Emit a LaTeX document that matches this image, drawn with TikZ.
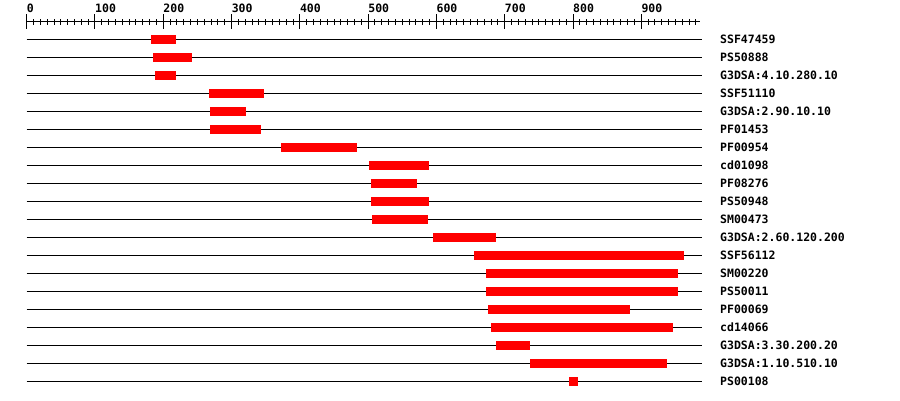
\documentclass[tikz,border=0pt]{standalone}
\usepackage{fontspec}
\setmonofont{DejaVu Sans Mono}
\definecolor{barred}{RGB}{255,0,0}
\begin{document}
\begin{tikzpicture}[x=1pt,y=-1pt,
  axisline/.style={line width=1pt,black},
  rowline/.style={line width=1pt,black},
  bar/.style={fill=barred,draw=none},
  lbl/.style={font=\ttfamily\bfseries\fontsize{11.5}{12}\selectfont,anchor=base west,inner sep=0pt}]
\useasboundingbox (0,0) rectangle (900,400);
% axis
\coordinate (axL) at (26.7,21.5);
\coordinate (axR) at (700,21.5);
\draw[axisline] (axL) -- (axR);
\foreach \i in {0,...,98}{
  \pgfmathsetmacro\xx{26.7+\i*6.829}
  \draw[axisline] (\xx,19) -- (\xx,24.5);
}
\foreach \n [count=\k from 0] in {0,100,200,300,400,500,600,700,800,900}{
  \pgfmathsetmacro\xx{26.7+\k*68.29}
  \draw[axisline] (\xx,14) -- (\xx,28.5);
  \node[lbl] (t\k) at (\xx,12) {\n};
}
% rows
\foreach \nm/\a/\b [count=\i from 0] in {
  SSF47459/151/175.7,
  PS50888/153/191.7,
  G3DSA:4.10.280.10/155/175.7,
  SSF51110/209/263.7,
  G3DSA:2.90.10.10/210/245.7,
  PF01453/210/260.7,
  PF00954/281/357,
  cd01098/369/429,
  PF08276/371/417,
  PS50948/371/429,
  SM00473/372/428,
  G3DSA:2.60.120.200/433/496,
  SSF56112/474/683.7,
  SM00220/486/678,
  PS50011/486/677.7,
  PF00069/488/630,
  cd14066/491/672.7,
  G3DSA:3.30.200.20/496/530,
  G3DSA:1.10.510.10/530/666.7,
  PS00108/569/578}{
  \pgfmathsetmacro\yy{39.5+18*\i}
  \coordinate (rl\i) at (26.7,\yy);
  \coordinate (rr\i) at (701.7,\yy);
  \draw[rowline] (rl\i) -- (rr\i);
  \fill[bar] (\a,\yy-4.5) rectangle (\b,\yy+4.5);
  \node[lbl] (n\i) at (720,\yy+4) {\nm};
}
\end{tikzpicture}
\end{document}
